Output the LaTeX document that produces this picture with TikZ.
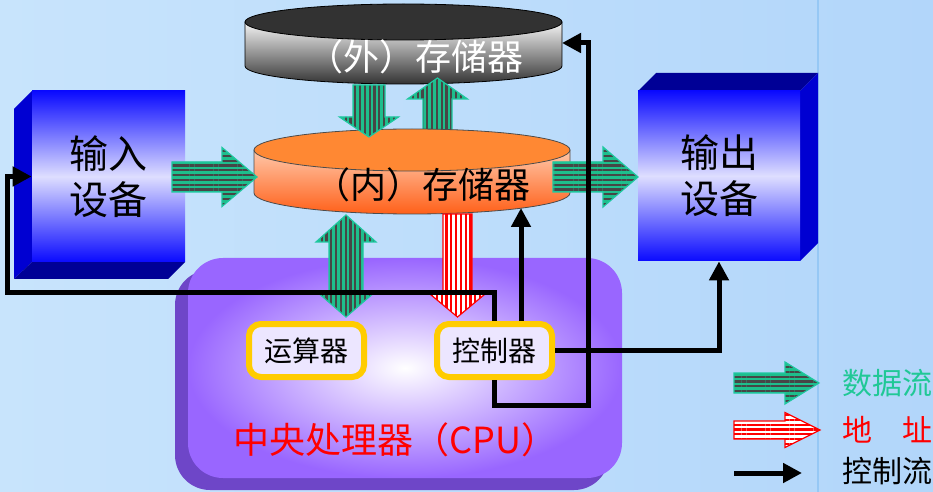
\documentclass[tikz,border=0pt]{standalone}
\usepackage{fontspec}
\setmainfont{Noto Sans CJK SC}
\usetikzlibrary{arrows.meta,patterns.meta}
\definecolor{bgL}{RGB}{200,228,252}
\definecolor{bgR}{RGB}{178,214,250}
\definecolor{bgline}{RGB}{150,200,245}
\definecolor{dgreen}{RGB}{30,190,140}
\definecolor{sgray}{RGB}{70,70,70}
\definecolor{tealedge}{RGB}{30,200,160}
\definecolor{devblue}{RGB}{10,10,255}
\definecolor{devlight}{RGB}{222,222,255}
\definecolor{devside}{RGB}{0,0,210}
\definecolor{devdark}{RGB}{0,0,150}
\definecolor{cpupurple}{RGB}{153,102,255}
\definecolor{cpushadow}{RGB}{110,70,200}
\definecolor{unityellow}{RGB}{255,204,0}
\definecolor{unitfill}{RGB}{236,230,255}
\definecolor{memtop}{RGB}{255,136,51}
\definecolor{mempeach}{RGB}{255,200,170}
\definecolor{memdeep}{RGB}{255,96,25}
\definecolor{exttop}{RGB}{50,50,50}
\definecolor{legendgreen}{RGB}{32,200,150}
\newcommand\hblock[7]{\path[#1] (#2,{#5-#6}) -- (#3,{#5-#6}) -- (#3,{#5-#7}) -- (#4,#5) -- (#3,{#5+#7}) -- (#3,{#5+#6}) -- (#2,{#5+#6}) -- cycle;}
\newcommand\vblock[7]{\path[#1] ({#5-#6},#2) -- ({#5-#6},#3) -- ({#5-#7},#3) -- (#5,#4) -- ({#5+#7},#3) -- ({#5+#6},#3) -- ({#5+#6},#2) -- cycle;}
\newcommand\vdouble[8]{\path[#1] (#6,#2) -- ({#6+#8},#3) -- ({#6+#7},#3) -- ({#6+#7},#4) -- ({#6+#8},#4) -- (#6,#5) -- ({#6-#8},#4) -- ({#6-#7},#4) -- ({#6-#7},#3) -- ({#6-#8},#3) -- cycle;}
\tikzset{
  datah/.style={preaction={fill=dgreen}, pattern={Lines[angle=0,distance=2.4pt,line width=1.1pt]}, pattern color=sgray, draw=tealedge, line width=0.6pt},
  datav/.style={preaction={fill=dgreen}, pattern={Lines[angle=90,distance=2.4pt,line width=1.1pt]}, pattern color=sgray, draw=tealedge, line width=0.6pt},
  addrh/.style={preaction={fill=white}, pattern={Lines[angle=0,distance=2.4pt,line width=1.1pt]}, pattern color=red, draw=red, line width=0.6pt},
  addrv/.style={preaction={fill=white}, pattern={Lines[angle=90,distance=2.4pt,line width=1.1pt]}, pattern color=red, draw=red, line width=0.6pt},
  ctrlflow/.style={line width=2.5pt, -{Triangle[length=9.5pt,width=9.5pt]}},
  devface/.style={top color=devblue, bottom color=devblue, middle color=devlight, inner sep=0pt, align=center, font=\fontsize{19.5pt}{23pt}\selectfont},
  unitbox/.style={draw=unityellow, line width=3pt, rounded corners=6pt, fill=unitfill, minimum width=57.5pt, minimum height=26.5pt, inner sep=0pt, font=\fontsize{14pt}{16pt}\selectfont},
  legendtext/.style={anchor=west, inner sep=0pt, font=\fontsize{15pt}{17pt}\selectfont},
}
\begin{document}
\begin{tikzpicture}[x=0.5pt,y=-0.5pt]
\useasboundingbox (0,0) rectangle (933,492);
% background
\shade[left color=bgL, right color=bgR] (0,0) rectangle (933,492);
\draw[bgline, line width=0.6pt] (818,0) -- (818,492);
% CPU
\fill[cpushadow, rounded corners=17.5pt] (175,270) rectangle (609,490);
\shade[inner color=white, outer color=cpupurple, rounded corners=17.5pt] (188,258) rectangle (622,478);
% input device
\fill[devside] (32,91) -- (14,109) -- (14,279) -- (32,262) -- cycle;
\fill[devdark] (32,262) -- (185,262) -- (168,279) -- (14,279) -- cycle;
\node[devface, minimum width=76.5pt, minimum height=85.5pt] (in) at (108.5,176.5) {输入\\设备};
% output device
\fill[devdark] (638,91) -- (656,73) -- (818,73) -- (800,91) -- cycle;
\fill[devside] (800,91) -- (818,73) -- (818,243) -- (800,261) -- cycle;
\node[devface, minimum width=81pt, minimum height=85pt] (out) at (719,176) {输出\\设备};
% external storage
\shade[top color=gray!8, bottom color=black!80, draw=black, line width=0.4pt] (245,22) -- (245,66) arc[start angle=180, end angle=0, x radius=158.5, y radius=18] -- (562,22) -- cycle;
\filldraw[fill=exttop, draw=black, line width=0.4pt] (403.5,22) ellipse [x radius=158.5, y radius=18];
% up arrow memory -> external
\vblock{datav}{132}{99}{78}{437.5}{14.5}{30}
% internal memory
\shade[top color=mempeach, bottom color=memdeep, draw=black!70, line width=0.4pt] (254,150) -- (254,193) arc[start angle=180, end angle=0, x radius=158, y radius=21] -- (570,150) -- cycle;
\filldraw[fill=memtop, draw=black!70, line width=0.4pt] (412,150) ellipse [x radius=158, y radius=21];
% down arrow external -> memory
\vblock{datav}{85}{117}{137}{369}{16}{29.5}
% data arrows
\hblock{datah}{172}{222}{257}{177}{15}{29.5}
\hblock{datah}{553}{603}{638}{177}{15}{30}
\vdouble{datav}{215}{242}{291}{317}{346}{17}{30}
\vblock{addrv}{214}{292}{317}{457.5}{14.5}{30}
% units
\node[unitbox] (alu) at (306.5,350.5) {运算器};
\node[unitbox] (ctrl) at (494.5,350.5) {控制器};
% texts
\node[text=white, inner sep=0pt, font=\fontsize{18pt}{20pt}\selectfont] (ext) at (415,57) {（外）存储器};
\node[text=black, inner sep=0pt, font=\fontsize{18pt}{20pt}\selectfont] (mem) at (422,185) {（内）存储器};
\node[text=red, inner sep=0pt, font=\fontsize{18pt}{20pt}\selectfont] (cpu) at (395.5,440) {中央处理器（CPU）};
% control flow
\coordinate (cA) at (7,293);
\coordinate (cB) at (588,405);
\coordinate (extE) at (562,43);
\coordinate (memB) at (521,208);
\draw[ctrlflow] (ctrl.north) |- (cA) |- (in.west);
\draw[ctrlflow] (ctrl.south) |- (cB) |- (extE);
\draw[ctrlflow] (ctrl.north -| memB) -- (memB);
\draw[ctrlflow] (ctrl.east) -| (out.south);
% legend
\hblock{datah}{734}{785}{819}{383}{10}{21}
\hblock{addrh}{734}{785}{820}{430}{9}{17.5}
\coordinate (lgA) at (734,473);
\coordinate (lgB) at (802,473);
\draw[ctrlflow] (lgA) -- (lgB);
\node[legendtext, text=legendgreen] (lg1) at (842,383) {数据流};
\node[legendtext, text=red] (lg2) at (842,430) {地　址};
\node[legendtext, text=black] (lg3) at (842,471) {控制流};
\end{tikzpicture}
\end{document}
